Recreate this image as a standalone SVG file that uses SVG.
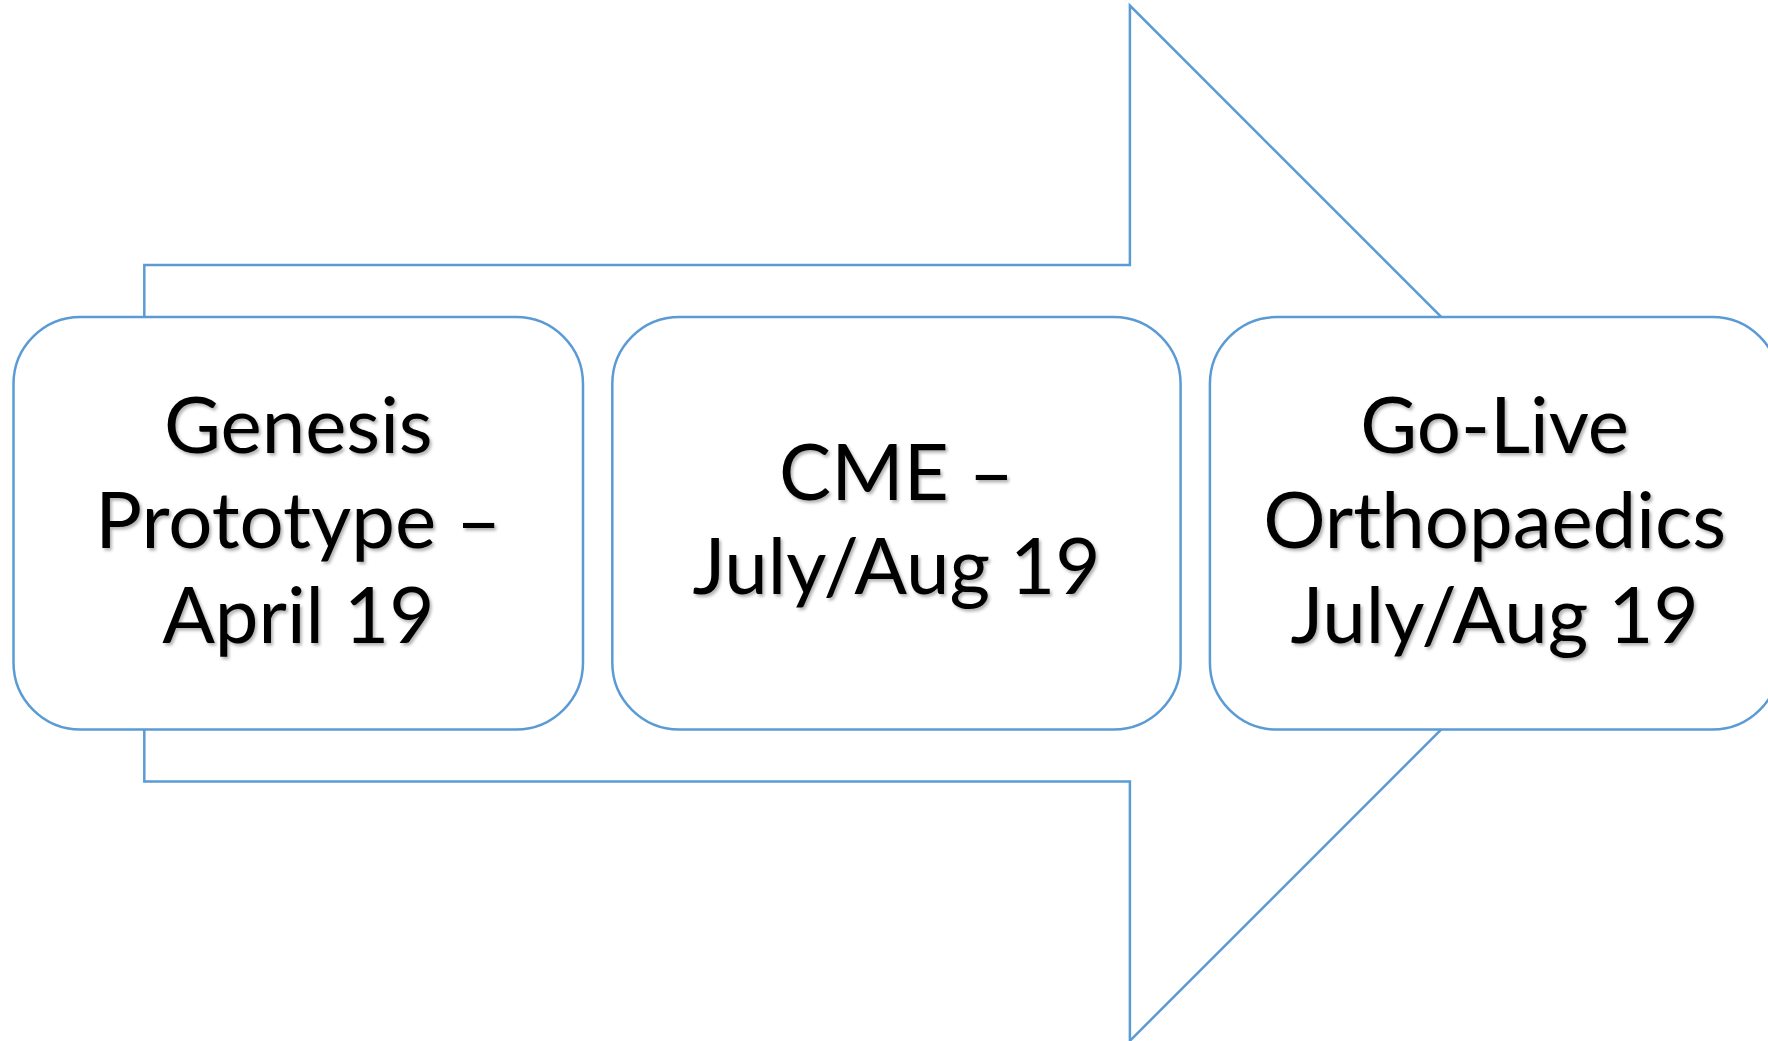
<svg xmlns="http://www.w3.org/2000/svg" width="1768" height="1041" viewBox="0 0 1768 1041">
<defs>
<filter id="sh" x="-10%" y="-10%" width="130%" height="140%">
<feDropShadow dx="2" dy="2.5" stdDeviation="1.5" flood-color="#000" flood-opacity="0.3"/>
</filter>
</defs>
<style>
.shape{fill:#fff;stroke:#5B9BD5;stroke-width:2.5}
.lbl{font-family:Lato,"Open Sans",sans-serif;font-size:78px;fill:#000;text-anchor:middle;filter:url(#sh)}
</style>
<rect width="1768" height="1041" fill="#fff"/>
<g id="connectors">
<path class="shape" d="M144.3,265 H1129.9 V5.6 L1647.5,523.2 L1129.9,1040.8 V781.4 H144.3 Z"/>
</g>
<g id="node1">
<rect class="shape" x="13.5" y="317" width="569.5" height="412.6" rx="67" ry="67"/>
<text class="lbl"><tspan x="298.3" y="453.3">Genesis</tspan><tspan x="298.3" y="548">Prototype –</tspan><tspan x="298.3" y="642.7">April 19</tspan></text>
</g>
<g id="node2">
<rect class="shape" x="612.3" y="317" width="568.3" height="412.6" rx="67" ry="67"/>
<text class="lbl"><tspan x="896.5" y="499.5">CME –</tspan><tspan x="896.5" y="594.2">July/Aug 19</tspan></text>
</g>
<g id="node3">
<rect class="shape" x="1209.9" y="317" width="569.5" height="412.6" rx="67" ry="67"/>
<text class="lbl"><tspan x="1494.6" y="453.3">Go-Live</tspan><tspan x="1494.6" y="548">Orthopaedics</tspan><tspan x="1494.6" y="642.7">July/Aug 19</tspan></text>
</g>
</svg>
